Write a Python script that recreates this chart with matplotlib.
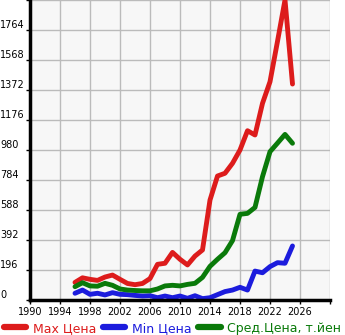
import matplotlib
matplotlib.use('Agg')
import matplotlib.pyplot as plt

# yearly price stats, thousands of yen
years = list(range(1996, 2026))
max_price = [115, 145, 135, 128, 150, 163, 135, 108, 100, 108,
             140, 233, 240, 311, 266, 229, 287, 327, 653, 810,
             828, 893, 980, 1106, 1078, 1285, 1426, 1690, 1960, 1411]
min_price = [44, 65, 37, 44, 33, 48, 37, 35, 30, 26,
             28, 15, 26, 15, 26, 11, 28, 9, 15, 35,
             55, 65, 83, 65, 189, 178, 218, 244, 240, 353]
avg_price = [87, 113, 92, 90, 109, 96, 72, 65, 62, 60,
             60, 72, 92, 96, 92, 102, 109, 148, 220, 266,
             309, 388, 560, 566, 605, 806, 969, 1025, 1082, 1024]

x_ticks = list(range(1990, 2027, 4))
y_ticks = [0, 196, 392, 588, 784, 980, 1176, 1372, 1568, 1764]

fig = plt.figure(figsize=(3.45, 3.35), dpi=100)
ax = fig.add_axes([30 / 345, 35 / 335, 300 / 345, 300 / 335])
ax.set_facecolor('#f7f7f7')

ax.plot(years, max_price, color='#dd1c1c', lw=3.5, label='Max Цена', solid_capstyle='round')
ax.plot(years, min_price, color='#1c1cdd', lw=3.5, label='Min Цена', solid_capstyle='round')
ax.plot(years, avg_price, color='#0a7a0a', lw=3.5, label='Сред.Цена, т.йен', solid_capstyle='round')

ax.set_xlim(1990, 2030)
ax.set_ylim(0, 1960)
ax.set_xticks(x_ticks + [2030])
ax.set_xticklabels([str(t) for t in x_ticks] + [''])
ax.set_yticks(y_ticks + [1960])
ax.set_yticklabels([str(t) for t in y_ticks] + [''])
ax.grid(True, color='#bbbbbb', lw=1)
ax.set_axisbelow(True)

for side in ['top', 'right']:
    ax.spines[side].set_visible(False)
for side in ['left', 'bottom']:
    ax.spines[side].set_linewidth(2.5)
    ax.spines[side].set_color('black')

ax.tick_params(axis='both', labelsize=7, length=3, width=1, color='black')
ax.tick_params(axis='x', pad=2)
ax.tick_params(axis='y', pad=18.4)
for lbl in ax.get_yticklabels():
    lbl.set_horizontalalignment('left')
    lbl.set_verticalalignment('bottom')

leg = fig.legend(loc='lower left', bbox_to_anchor=(0.0, -0.01), ncol=3, frameon=False,
                 fontsize=9, handlelength=1.8, handletextpad=0.55, columnspacing=0.5,
                 borderpad=0.3, borderaxespad=0.0, labelcolor='linecolor')
for line in leg.get_lines():
    line.set_linewidth(4.5)

plt.savefig('out.png', dpi=100)
plt.close()
